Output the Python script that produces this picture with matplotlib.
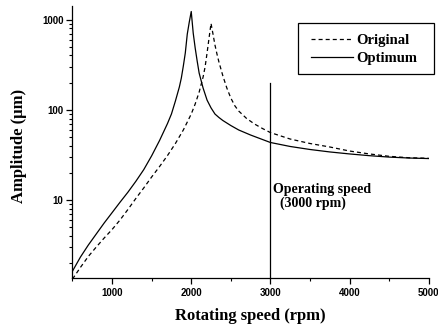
import matplotlib
matplotlib.use("Agg")
import matplotlib.pyplot as plt
from matplotlib.patches import Rectangle
from matplotlib.ticker import FixedLocator, MultipleLocator, LogLocator, FuncFormatter, NullFormatter

# ---- data ----
speed_opt = [500, 600, 700, 800, 900, 1000, 1100, 1200, 1300, 1400, 1500, 1600,
             1650, 1700, 1750, 1800, 1850, 1875, 1900, 1925, 1950, 1975, 2000,
             2025, 2050, 2075, 2100, 2150, 2200, 2250, 2300, 2350, 2400, 2500,
             2600, 2750, 3000, 3250, 3500, 3750, 4000, 4250, 4500, 4750, 5000]
amp_opt = [1.63, 2.33, 3.17, 4.20, 5.56, 7.24, 9.44, 12.2, 16.1, 21.7, 30.9, 45.7,
           56.7, 70.4, 89.8, 125, 179, 225, 305, 426, 690, 935, 1228,
           708, 483, 347, 255, 174, 128, 105, 89.7, 82.1, 76.0, 66.9,
           59.7, 52.5, 43.4, 39.2, 36.3, 34.1, 32.4, 31.0, 29.9, 29.2, 28.8]

speed_orig = [500, 600, 700, 800, 900, 1000, 1100, 1200, 1300, 1400, 1500, 1600,
              1700, 1800, 1900, 1950, 2000, 2050, 2100, 2150, 2175, 2200, 2225,
              2250, 2275, 2300, 2325, 2350, 2400, 2450, 2500, 2550, 2600, 2700,
              2800, 2900, 3000, 3250, 3500, 3750, 4000, 4250, 4500, 4750, 5000]
amp_orig = [1.33, 1.79, 2.37, 3.01, 3.79, 4.71, 6.00, 7.85, 10.4, 13.6, 18.0, 23.5,
            31.1, 42.3, 59.7, 73.1, 89.7, 116, 157, 231, 298, 426, 624,
            907, 690, 521, 415, 338, 237, 174, 135, 111, 96.8, 80.0,
            69.5, 62.0, 55.9, 47.4, 42.3, 38.7, 34.9, 32.4, 30.5, 29.4, 29.0]

series_labels = ["Original", "Optimum"]
op_speed = 3000
op_line_top = 200
op_text = "Operating speed\n  (3000 rpm)"
x_ticks = [1000, 2000, 3000, 4000, 5000]
y_ticks = [10, 100, 1000]
x_label = "Rotating speed (rpm)"
y_label = "Amplitude (\u03bcm)"

W, H = 439, 326
plt.rcParams['lines.scale_dashes'] = False
fig = plt.figure(figsize=(W / 100, H / 100), dpi=100)
ax = fig.add_axes([72.5 / W, 48.3 / H, (428.7 - 72.5) / W, 271.7 / H])

ymin, ymax = 1.377, 1413
ax.set_yscale('log')
ax.set_xlim(500, 5000)
ax.set_ylim(ymin, ymax)

dash = (0, (2.9, 2.2))
ax.plot(speed_orig, amp_orig, color='black', lw=0.9, linestyle=dash,
        label=series_labels[0])
ax.plot(speed_opt, amp_opt, color='black', lw=0.9, label=series_labels[1])
ax.plot([op_speed, op_speed], [ymin, op_line_top], color='black', lw=0.9)

serif = ['Liberation Serif', 'DejaVu Serif']
sans = ['Liberation Sans', 'DejaVu Sans']

ax.text(op_speed + 38, 15.4, op_text, family=serif, weight='bold', fontsize=10,
        ha='left', va='top', linespacing=1.05)

for s in ['top', 'right']:
    ax.spines[s].set_visible(False)
for s in ['left', 'bottom']:
    ax.spines[s].set_linewidth(0.9)

ax.xaxis.set_major_locator(FixedLocator(x_ticks))
ax.xaxis.set_minor_locator(MultipleLocator(500))
ax.yaxis.set_major_locator(FixedLocator(y_ticks))
ax.yaxis.set_minor_locator(LogLocator(base=10, subs=[2, 3, 4, 5, 6, 7, 8, 9]))
ax.yaxis.set_major_formatter(FuncFormatter(lambda v, p: f"{int(round(v))}"))
ax.yaxis.set_minor_formatter(NullFormatter())
ax.xaxis.set_major_formatter(FuncFormatter(lambda v, p: f"{int(round(v))}"))

ax.tick_params(axis='both', which='major', direction='out', length=4, width=0.9,
               labelsize=7, colors='black')
ax.tick_params(axis='both', which='minor', direction='out', length=2.2, width=0.8)
ax.tick_params(axis='x', which='major', pad=3.5)
ax.tick_params(axis='y', which='major', pad=2.5)
for lab in ax.get_xticklabels() + ax.get_yticklabels():
    lab.set_family(sans)
    lab.set_weight('bold')

fig.text(250.6 / W, 1 - 315.5 / H, x_label, family=serif, weight='bold', fontsize=12,
         ha='center', va='center')
fig.text(19 / W, 1 - 145.5 / H, y_label, family=serif, weight='bold', fontsize=12,
         ha='center', va='center', rotation=90)

# legend (frame drawn separately to match the reference box)
leg = ax.legend(loc='center left', bbox_to_anchor=(310.7 / W, 1 - 49.5 / H),
                bbox_transform=fig.transFigure, borderaxespad=0, borderpad=0,
                prop={'family': serif, 'weight': 'bold', 'size': 10.5},
                handlelength=2.93, handletextpad=0.22, labelspacing=0.3,
                frameon=False)
box = Rectangle((297.5 / W, 1 - 73.5 / H), (434 - 297.5) / W, (73.5 - 23.3) / H,
                transform=fig.transFigure, fill=False, edgecolor='black', lw=0.9,
                zorder=5)
fig.add_artist(box)

fig.savefig('out.png', dpi=100)
